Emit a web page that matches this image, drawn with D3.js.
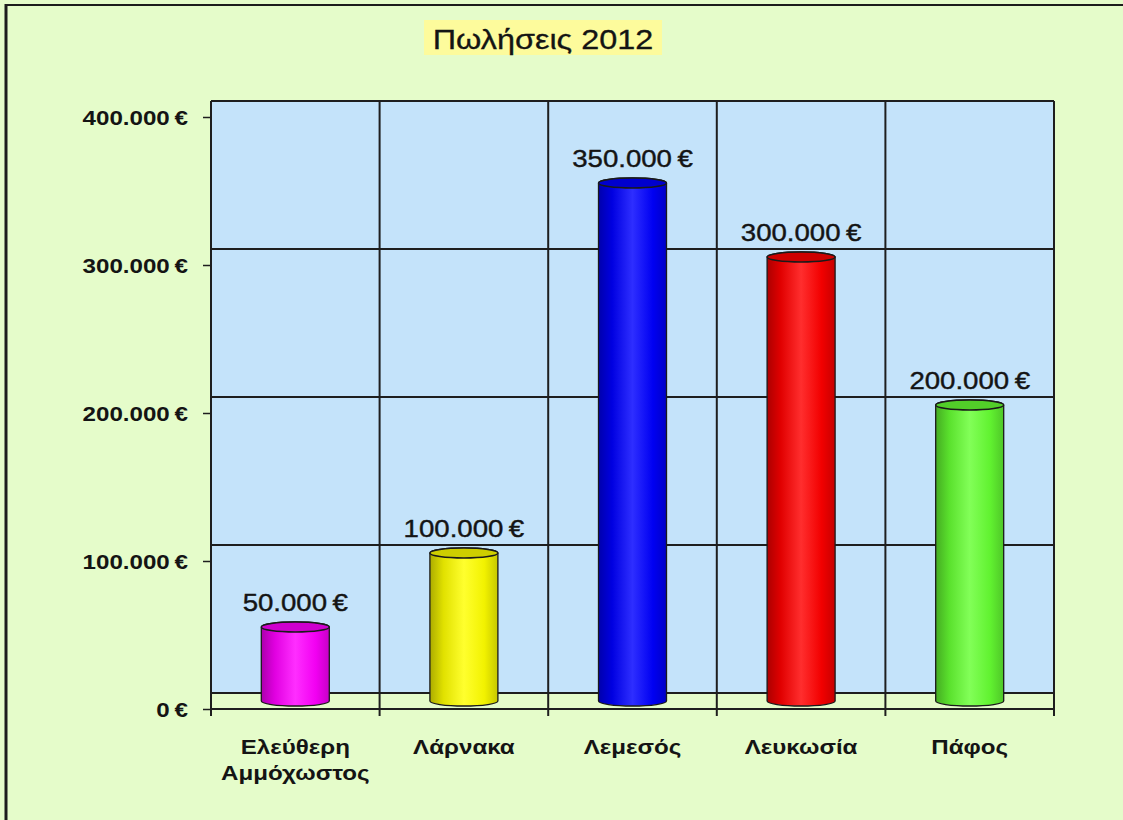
<!DOCTYPE html>
<html>
<head>
<meta charset="utf-8">
<script src="https://cdn.jsdelivr.net/npm/d3@7"></script>
<style>
  body { margin: 0; background: #e5fcca; }
  svg { display: block; }
  text { font-family: "Liberation Sans", Arial, sans-serif; fill: #141414; }
</style>
</head>
<body>
<div id="chart"></div>
<script>
// data
var categories = ["Ελεύθερη Αμμόχωστος", "Λάρνακα", "Λεμεσός", "Λευκωσία", "Πάφος"];
var sales = [50000, 100000, 350000, 300000, 200000];
var barColors = ["#ff00ff", "#ffff00", "#0000ff", "#ff0000", "#66ff33"];
var yTicks = [0, 100000, 200000, 300000, 400000];
var title = "Πωλήσεις 2012";

var W = 1123, H = 820;
var left = 211, right = 1054, front0 = 709, front400 = 117, depth = 16;
var stretch = 1.15;

var svg = d3.select("#chart")
    .append("svg")
    .attr("width", W)
    .attr("height", H);

var fmt = function(v) {
    return d3.format(",")(v).replace(/,/g, ".") + "\u2009€";
};

// background + frame
svg.append("rect").attr("width", W).attr("height", H).attr("fill", "#e5fcca");
svg.append("line").attr("x1", 6).attr("x2", 6).attr("y1", 4).attr("y2", H)
    .attr("stroke", "#1c1c1c").attr("stroke-width", 3);
svg.append("line").attr("x1", 5).attr("x2", W).attr("y1", 5).attr("y2", 5)
    .attr("stroke", "#1c1c1c").attr("stroke-width", 2);

// scales
var x = d3.scaleBand().domain(categories).range([left, right]).padding(0);
var y = d3.scaleLinear().domain([0, 400000]).range([front0, front400]);
var bw = 68;

// back wall
svg.append("rect")
    .attr("x", left).attr("y", y(400000) - depth)
    .attr("width", right - left).attr("height", y(0) - y(400000))
    .attr("fill", "#c4e3fa");

var grid = svg.append("g").attr("stroke", "#1e1e1e").attr("stroke-width", 2);

// horizontal gridlines on the wall
grid.selectAll("line.h")
    .data(yTicks)
    .enter()
    .append("line")
    .attr("class", "h")
    .attr("x1", left).attr("x2", right)
    .attr("y1", function(d) { return y(d) - depth; })
    .attr("y2", function(d) { return y(d) - depth; });

// vertical gridlines (category boundaries), running through the floor to the tick
var bounds = categories.map(function(c) { return x(c); }).concat([right]);
grid.selectAll("line.v")
    .data(bounds)
    .enter()
    .append("line")
    .attr("class", "v")
    .attr("x1", function(d) { return d; }).attr("x2", function(d) { return d; })
    .attr("y1", y(400000) - depth)
    .attr("y2", front0 + 7);

// front floor edge
grid.append("line")
    .attr("x1", left).attr("x2", right)
    .attr("y1", front0).attr("y2", front0);

// y axis
var yAxis = svg.append("g")
    .attr("transform", "translate(" + left + ",0)")
    .call(d3.axisLeft(y).tickValues(yTicks).tickSize(8).tickFormat(fmt));
yAxis.select(".domain").remove();
yAxis.selectAll(".tick line").attr("stroke", "#1e1e1e").attr("stroke-width", 1.5);
yAxis.selectAll(".tick text")
    .attr("x", -23 / stretch)
    .attr("dy", "0.35em")
    .attr("transform", "scale(" + stretch + ",1)")
    .attr("font-size", "21px")
    .attr("font-weight", "bold")
    .attr("font-family", "Liberation Sans, Arial, sans-serif")
    .attr("fill", "#141414");

// x axis labels
var xLab = svg.append("g");
categories.forEach(function(c) {
    var words = c.split(" ");
    var t = xLab.append("text")
        .attr("transform", "translate(" + (x(c) + x.bandwidth() / 2) + ",754) scale(" + stretch + ",1)")
        .attr("text-anchor", "middle")
        .attr("font-size", "21px")
        .attr("font-weight", "bold");
    words.forEach(function(w, i) {
        t.append("tspan").attr("x", 0).attr("y", i * 26).text(w);
    });
});

// gradients for the cylinders
var defs = svg.append("defs");
barColors.forEach(function(col, i) {
    var base = d3.color(col);
    var g = defs.append("linearGradient").attr("id", "cyl" + i)
        .attr("x1", "0%").attr("x2", "100%").attr("y1", "0%").attr("y2", "0%");
    g.append("stop").attr("offset", "0%").attr("stop-color", base.darker(1.1));
    g.append("stop").attr("offset", "20%").attr("stop-color", base.darker(0.35));
    g.append("stop").attr("offset", "50%").attr("stop-color", d3.interpolateRgb(col, "#ffffff")(0.18));
    g.append("stop").attr("offset", "80%").attr("stop-color", base.darker(0.15));
    g.append("stop").attr("offset", "100%").attr("stop-color", base.darker(0.7));
});

// cylinders
var rx = bw / 2, ry = 5, mid = depth / 2;
var bars = svg.append("g");
sales.forEach(function(v, i) {
    var c = categories[i];
    var cx = x(c) + x.bandwidth() / 2;
    var yTop = y(v) - mid;
    var yBot = y(0) - mid;
    bars.append("path")
        .attr("d", "M" + (cx - rx) + "," + yBot +
            " L" + (cx - rx) + "," + yTop +
            " A" + rx + "," + ry + " 0 0 1 " + (cx + rx) + "," + yTop +
            " L" + (cx + rx) + "," + yBot +
            " A" + rx + "," + ry + " 0 0 1 " + (cx - rx) + "," + yBot + " Z")
        .attr("fill", "url(#cyl" + i + ")")
        .attr("stroke", "#1a1a1a")
        .attr("stroke-width", 1.3);
    bars.append("ellipse")
        .attr("cx", cx).attr("cy", yTop)
        .attr("rx", rx).attr("ry", ry)
        .attr("fill", d3.color(barColors[i]).darker(0.6))
        .attr("stroke", "#1a1a1a")
        .attr("stroke-width", 1.5);

    // value label
    svg.append("text")
        .attr("transform", "translate(" + cx + "," + (yTop - 16) + ") scale(" + stretch + ",1)")
        .attr("text-anchor", "middle")
        .attr("font-size", "24px")
        .attr("stroke", "#141414")
        .attr("stroke-width", 0.4)
        .text(fmt(v));
});

// title
svg.append("rect")
    .attr("x", 424).attr("y", 20)
    .attr("width", 238).attr("height", 35)
    .attr("fill", "#fdfb9c");
svg.append("text")
    .attr("transform", "translate(543,49) scale(1.2,1)")
    .attr("text-anchor", "middle")
    .attr("font-size", "27px")
    .attr("stroke", "#141414")
    .attr("stroke-width", 0.3)
    .text(title);
</script>
</body>
</html>
